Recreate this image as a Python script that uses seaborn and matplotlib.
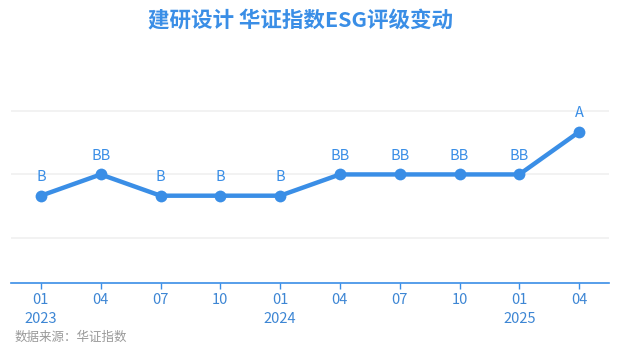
import matplotlib
matplotlib.use("Agg")
import matplotlib.pyplot as plt
import seaborn as sns
import pandas as pd

periods = ["2023-01", "2023-04", "2023-07", "2023-10", "2024-01",
           "2024-04", "2024-07", "2024-10", "2025-01", "2025-04"]
tick_labels = ["01\n2023", "04", "07", "10", "01\n2024",
               "04", "07", "10", "01\n2025", "04"]
ratings = ["B", "BB", "B", "B", "B", "BB", "BB", "BB", "BB", "A"]
rating_scores = {"C": 0, "CC": 1, "CCC": 2, "B": 3, "BB": 4, "BBB": 5,
                 "A": 6, "AA": 7, "AAA": 8}

sns.set_theme(style="white")
plt.rcParams["font.family"] = ["Noto Sans CJK SC", "DejaVu Sans"]

blue = "#3a8ee6"
df = pd.DataFrame({"pos": list(range(len(periods))),
                   "score": [rating_scores[r] for r in ratings],
                   "rating": ratings})

fig = plt.figure(figsize=(6.18, 3.55), dpi=100)
ax = fig.add_axes([11 / 618, 0.2037, 598 / 618, 0.5206])

sns.lineplot(data=df, x="pos", y="score", ax=ax, color=blue, linewidth=3.2,
             marker="o", markersize=8.5, markeredgewidth=0, zorder=3)

for _, row in df.iterrows():
    ax.annotate(row["rating"], (row["pos"], row["score"]), xytext=(0, 8.5),
                textcoords="offset points", ha="center", va="bottom",
                fontsize=10.5, color=blue)

ax.set_xlim(-0.5, len(periods) - 0.5)
ax.set_ylim(-1.09, 7.6)
ax.set_yticks([1, 4, 7])
ax.set_yticklabels([])
ax.tick_params(axis="y", length=0)
ax.grid(axis="y", color="#f0f0f0", linewidth=1.2)
ax.grid(axis="x", visible=False)

ax.set_xticks(df["pos"])
ax.set_xticklabels(tick_labels, fontsize=10.5, color="#3d86d4", linespacing=1.45)
ax.tick_params(axis="x", length=4, width=1, color=blue, pad=3.5, direction="out",
               bottom=True)

for s in ["top", "right", "left"]:
    ax.spines[s].set_visible(False)
ax.spines["bottom"].set_color(blue)
ax.spines["bottom"].set_linewidth(1.2)
ax.set_xlabel("")
ax.set_ylabel("")

fig.text(300 / 618, 1 - 20 / 355, "建研设计 华证指数ESG评级变动", ha="center",
         va="center", fontsize=15.5, fontweight="bold", color=blue)
fig.text(15 / 618, 1 - 337 / 355, "数据来源：华证指数", ha="left", va="center",
         fontsize=9, color="#999999")

fig.savefig("out.png", dpi=100)
